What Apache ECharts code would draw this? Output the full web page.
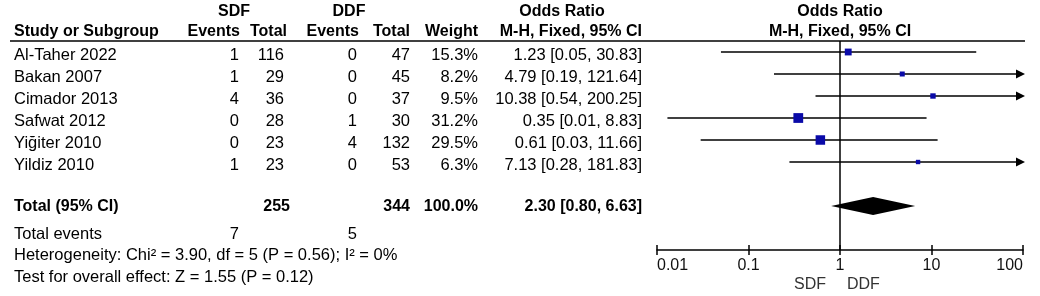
<!DOCTYPE html>
<html><head><meta charset="utf-8">
<script src="https://cdn.jsdelivr.net/npm/echarts@6/dist/echarts.min.js"></script>
<style>html,body{margin:0;padding:0;background:#fff}#c{width:1040px;height:296px}</style>
</head><body><div id="c"></div>
<script>
// ---- data ----
const studies = ['Al-Taher 2022','Bakan 2007','Cimador 2013','Safwat 2012','Yiğiter 2010','Yildiz 2010'];
const sdfEvents = [1,1,4,0,0,1];
const sdfTotal = [116,29,36,28,23,23];
const ddfEvents = [0,0,0,1,4,0];
const ddfTotal = [47,45,37,30,132,53];
const weights = [15.3,8.2,9.5,31.2,29.5,6.3];
const orValues = [1.23,4.79,10.38,0.35,0.61,7.13];
const ciLow = [0.05,0.19,0.54,0.013,0.03,0.28];
const ciHigh = [30.83,121.64,200.25,8.83,11.66,181.83];
const pooledOR = 2.30, pooledLow = 0.80, pooledHigh = 6.63;
const totalSdf = 255, totalDdf = 344, totalWeight = 100.0;
const eventsSdf = 7, eventsDdf = 5;
const heterogeneityText = 'Heterogeneity: Chi² = 3.90, df = 5 (P = 0.56); I² = 0%';
const overallText = 'Test for overall effect: Z = 1.55 (P = 0.12)';
const tickValues = [0.01,0.1,1,10,100];
const tickLabels = ['0.01','0.1','1','10','100'];

// ---- layout ----
const TOP = 41, ROW = 22, AXIS_Y = 250, H = 296;
const FONT = '"Liberation Sans", Arial, sans-serif';
const rowY = i => TOP + (i + 0.5) * ROW + 3;
const fmt = v => v.toFixed(2);
const orText = (o,l,h) => `${fmt(o)} [${fmt(l)}, ${fmt(h)}]`;

function txt(s, x, y, align, bold, color, size) {
  return { type:'text', x, y, silent:true,
    style:{ text:String(s), fill:color||'#000', font:(bold?'bold 16px ':((size||16.5)+'px ')) + FONT,
      textAlign:align||'left', textVerticalAlign:'middle' } };
}

const g = [];
// headers
g.push(txt('SDF',234,12,'center',true), txt('DDF',349,12,'center',true),
  txt('Odds Ratio',562,12,'center',true), txt('Odds Ratio',840,12,'center',true),
  txt('Study or Subgroup',14,32,'left',true), txt('Events',240,32,'right',true),
  txt('Total',287,32,'right',true), txt('Events',359,32,'right',true),
  txt('Total',410,32,'right',true), txt('Weight',478,32,'right',true),
  txt('M-H, Fixed, 95% CI',642,32,'right',true), txt('M-H, Fixed, 95% CI',840,32,'center',true));
g.push({ type:'line', silent:true, shape:{x1:10,y1:TOP,x2:1025,y2:TOP}, style:{stroke:'#000',lineWidth:1.5} });
// rows
studies.forEach((s,i)=>{
  const y = rowY(i);
  g.push(txt(s,14,y,'left'), txt(sdfEvents[i],239,y,'right'), txt(sdfTotal[i],284,y,'right'),
    txt(ddfEvents[i],357,y,'right'), txt(ddfTotal[i],410,y,'right'),
    txt(weights[i].toFixed(1)+'%',478,y,'right'),
    txt(orText(orValues[i],ciLow[i],ciHigh[i]),642,y,'right'));
});
// totals
g.push(txt('Total (95% CI)',14,207,'left',true), txt(totalSdf,290,207,'right',true),
  txt(totalDdf,410,207,'right',true), txt(totalWeight.toFixed(1)+'%',478,207,'right',true),
  txt(orText(pooledOR,pooledLow,pooledHigh),642,207,'right',true));
g.push(txt('Total events',14,234,'left'), txt(eventsSdf,239,234,'right'), txt(eventsDdf,357,234,'right'));
g.push(txt(heterogeneityText,14,255,'left'), txt(overallText,14,277,'left'));
g.push(txt('SDF',826,285,'right',false,'#333',16), txt('DDF',847,285,'left',false,'#333',16));

const chart = echarts.init(document.getElementById('c'), null, {renderer:'canvas'});
const XMIN = 0.01, XMAX = 100;
const axisBase = { type:'log', logBase:10, min:XMIN, max:XMAX, interval:1, position:'bottom',
  splitLine:{show:false}, gridIndex:0 };
chart.setOption({
  animation:false,
  backgroundColor:'#fff',
  grid:{ left:657, right:1040-1023, top:TOP, bottom:H-AXIS_Y, containLabel:false },
  xAxis:[
    Object.assign({}, axisBase, {
      axisLine:{show:true, onZero:false, lineStyle:{color:'#000', width:1.5}},
      axisTick:{show:true, inside:false, length:5, lineStyle:{color:'#000', width:1.5}},
      axisLabel:{ show:true, margin:8, fontSize:16, fontFamily:FONT, color:'#111',
        alignMinLabel:'left', alignMaxLabel:'right',
        formatter: v => { const k = tickValues.findIndex(t => Math.abs(Math.log10(t)-Math.log10(v))<1e-6); return k>=0 ? tickLabels[k] : ''; } }
    }),
    Object.assign({}, axisBase, {
      axisLine:{show:false, onZero:false},
      axisTick:{show:true, inside:true, length:5, lineStyle:{color:'#000', width:1.5}},
      axisLabel:{show:false}
    })
  ],
  yAxis:{ type:'value', min:0, max:(AXIS_Y-TOP)/ROW, inverse:true, show:false },
  series:[
    { type:'line', xAxisIndex:0, data:[[1,0],[1,(AXIS_Y-TOP)/ROW]], symbol:'none',
      lineStyle:{color:'#000', width:1.5}, silent:true, z:1 },
    { type:'custom', xAxisIndex:0, z:3,
      data: studies.map((s,i)=>[orValues[i], ciLow[i], ciHigh[i], i + 0.5, weights[i]]),
      encode:{x:0, y:3},
      renderItem:(params, api)=>{
        const yv = api.value(3);
        const y = api.coord([1, yv])[1];
        const lo = api.value(1), hi = api.value(2);
        const xl = api.coord([Math.max(lo, XMIN), yv])[0];
        const xh = api.coord([Math.min(hi, XMAX), yv])[0];
        const xc = api.coord([api.value(0), yv])[0];
        const sz = Math.max(4, Math.sqrt(api.value(4)) * 1.75);
        const ch = [
          { type:'line', shape:{x1:xl,y1:y,x2:xh,y2:y}, style:{stroke:'#000', lineWidth:1.5} },
          { type:'rect', shape:{x:xc-sz/2, y:y-sz/2, width:sz, height:sz}, style:{fill:'#0a0aa8'} }
        ];
        if (hi > XMAX) ch.push({ type:'polygon', shape:{points:[[xh+2,y],[xh-7,y-4.5],[xh-7,y+4.5]]}, style:{fill:'#000'} });
        if (lo < XMIN) ch.push({ type:'polygon', shape:{points:[[xl-2,y],[xl+7,y-4.5],[xl+7,y+4.5]]}, style:{fill:'#000'} });
        return { type:'group', children:ch };
      }
    },
    { type:'custom', xAxisIndex:0, z:3,
      data:[[pooledOR, pooledLow, pooledHigh, 7.5]],
      encode:{x:0, y:3},
      renderItem:(params, api)=>{
        const yv = api.value(3);
        const y = api.coord([1, yv])[1];
        const xl = api.coord([api.value(1), yv])[0];
        const xh = api.coord([api.value(2), yv])[0];
        const xc = api.coord([api.value(0), yv])[0];
        return { type:'polygon', shape:{points:[[xl,y],[xc,y-9],[xh,y],[xc,y+9]]}, style:{fill:'#000'} };
      }
    }
  ],
  graphic: g
});
</script>
</body></html>
